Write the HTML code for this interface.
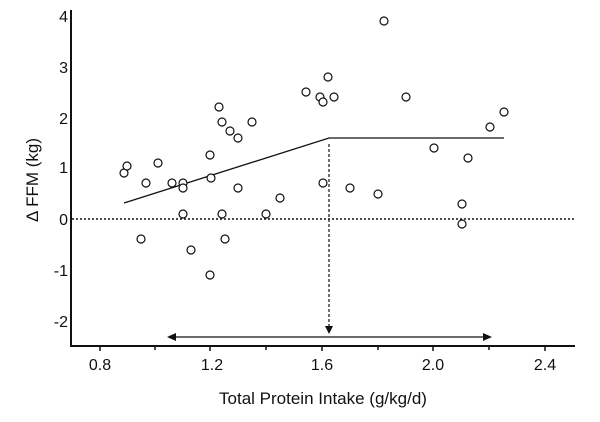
<!DOCTYPE html><html><head><style>body{margin:0;background:#fff}svg{display:block}text{font-family:"Liberation Sans",sans-serif;fill:#111}</style></head><body>
<svg width="600" height="422" viewBox="0 0 600 422">
<g stroke="#111" stroke-width="2" fill="none">
<line x1="71" y1="10" x2="71" y2="347"/><line x1="70" y1="346" x2="575" y2="346"/>
</g>
<g stroke="#111" stroke-width="1.5">
<line x1="100" y1="346" x2="100" y2="351"/><line x1="155" y1="346" x2="155" y2="350"/><line x1="210" y1="346" x2="210" y2="351"/><line x1="266" y1="346" x2="266" y2="350"/><line x1="322" y1="346" x2="322" y2="351"/><line x1="378" y1="346" x2="378" y2="350"/><line x1="433" y1="346" x2="433" y2="351"/><line x1="489" y1="346" x2="489" y2="350"/><line x1="545" y1="346" x2="545" y2="351"/>
</g>
<g font-size="16" text-anchor="middle">
<text x="100" y="370">0.8</text><text x="212" y="370">1.2</text><text x="322" y="370">1.6</text><text x="433" y="370">2.0</text><text x="545" y="370">2.4</text>
<text x="323" y="404" font-size="17">Total Protein Intake (g/kg/d)</text>
</g>
<g font-size="16" text-anchor="end">
<text x="68" y="22">4</text><text x="68" y="73">3</text><text x="68" y="124">2</text><text x="68" y="173">1</text><text x="68" y="225">0</text><text x="68" y="276">-1</text><text x="68" y="327">-2</text>
</g>
<text transform="translate(38,180) rotate(-90)" font-size="17" text-anchor="middle">Δ FFM (kg)</text>
<line x1="72" y1="219" x2="575" y2="219" stroke="#111" stroke-width="1.5" stroke-dasharray="2,2"/>
<polyline points="124,203 329,138 504,138" fill="none" stroke="#111" stroke-width="1.3"/>
<line x1="329" y1="144" x2="329" y2="328" stroke="#111" stroke-width="1.2" stroke-dasharray="3,2"/>
<polygon points="325,326 333,326 329,334" fill="#111"/>
<line x1="174" y1="337" x2="486" y2="337" stroke="#111" stroke-width="1.3"/>
<polygon points="167,337 176,333 176,341" fill="#111"/><polygon points="492,337 483,333 483,341" fill="#111"/>
<g fill="#fff" stroke="#111" stroke-width="1.2">
<circle cx="124" cy="173" r="4"/><circle cx="127" cy="166" r="4"/><circle cx="146" cy="183" r="4"/><circle cx="158" cy="163" r="4"/><circle cx="172" cy="183" r="4"/><circle cx="183" cy="183" r="4"/><circle cx="183" cy="188" r="4"/><circle cx="183" cy="214" r="4"/><circle cx="141" cy="239" r="4"/><circle cx="191" cy="250" r="4"/><circle cx="210" cy="275" r="4"/><circle cx="210" cy="155" r="4"/><circle cx="211" cy="178" r="4"/><circle cx="219" cy="107" r="4"/><circle cx="222" cy="122" r="4"/><circle cx="222" cy="214" r="4"/><circle cx="225" cy="239" r="4"/><circle cx="230" cy="131" r="4"/><circle cx="238" cy="138" r="4"/><circle cx="252" cy="122" r="4"/><circle cx="238" cy="188" r="4"/><circle cx="280" cy="198" r="4"/><circle cx="266" cy="214" r="4"/>
<circle cx="384" cy="21" r="4"/><circle cx="328" cy="77" r="4"/><circle cx="306" cy="92" r="4"/><circle cx="320" cy="97" r="4"/><circle cx="323" cy="102" r="4"/><circle cx="334" cy="97" r="4"/><circle cx="406" cy="97" r="4"/><circle cx="504" cy="112" r="4"/><circle cx="490" cy="127" r="4"/><circle cx="434" cy="148" r="4"/><circle cx="468" cy="158" r="4"/><circle cx="323" cy="183" r="4"/><circle cx="350" cy="188" r="4"/><circle cx="378" cy="194" r="4"/><circle cx="462" cy="204" r="4"/><circle cx="462" cy="224" r="4"/>
</g>
</svg></body></html>
